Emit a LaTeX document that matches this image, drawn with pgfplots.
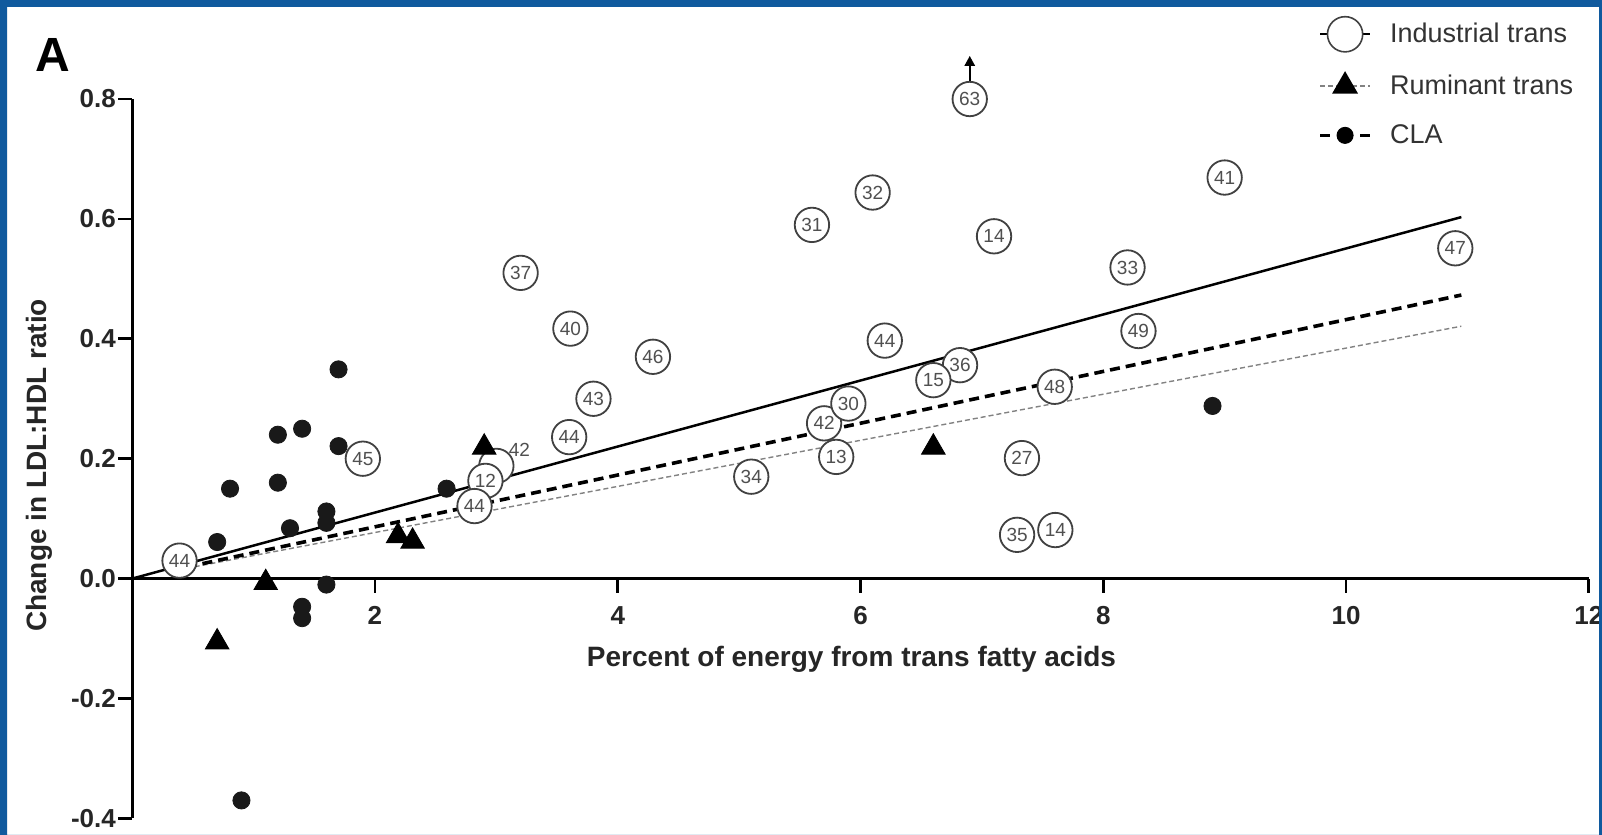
\documentclass[border=0pt]{standalone}
\usepackage{pgfplots}
\pgfplotsset{compat=1.18}
\usepackage{fontspec}
\setmainfont{Liberation Sans}
\usetikzlibrary{arrows.meta}
\definecolor{frameblue}{RGB}{16,90,158}
\definecolor{circgray}{RGB}{65,65,65}
\definecolor{labgray}{RGB}{80,80,80}
\definecolor{rumgray}{RGB}{130,130,130}
\begin{document}
\begin{tikzpicture}[x=1pt,y=1pt]
\useasboundingbox (0,0) rectangle (801,417.5);
\fill[white] (0,0) rectangle (801,417.5);
\begin{axis}[
  at={(66.1pt,8.3pt)}, anchor=south west,
  scale only axis, width=728.3pt, height=359.7pt,
  xmin=0, xmax=12, ymin=-0.4, ymax=0.8,
  axis x line=middle, axis y line=left,
  axis line style={-, line width=1.4pt, black},
  hide obscured x ticks=false, hide obscured y ticks=false,
  xtick={2,4,6,8,10,12}, xticklabels={2,4,6,8,10,12},
  ytick={-0.4,-0.2,0,0.2,0.4,0.6,0.8},
  yticklabels={-0.4,-0.2,0.0,0.2,0.4,0.6,0.8},
  tick align=outside, major tick length=7pt,
  tick style={line width=1.4pt, black},
  ticklabel style={font=\bfseries\fontsize{13}{13}\selectfont, text=black!85},
  xticklabel style={yshift=-3.5pt},
  yticklabel style={inner xsep=1pt},
  /pgf/number format/assume math mode=true,
  clip=false,
  legend image code/.code={
    \draw[mark repeat=2, mark phase=2, #1] plot coordinates {(0pt,0pt) (12.5pt,0pt) (25pt,0pt)};
    \path[draw=none, fill=none] (0pt,0pt) -- (33pt,0pt);
  },
  legend cell align=left,
  legend style={at={(axis cs:9.768,0.938)}, anchor=north west, draw=none, fill=none,
    inner sep=0pt, row sep=9.5pt, font=\fontsize{13.5}{13.5}\selectfont, text=black!80},
]
\addlegendimage{black, line width=1.2pt, mark=*, mark size=8.8pt, mark options={fill=white, draw=circgray, line width=0.8pt}}
\addlegendentry{Industrial trans}
\addlegendimage{rumgray, line width=0.7pt, dash pattern=on 2.5pt off 1.5pt, mark=triangle*, mark size=6.8pt, mark options={solid, fill=black, draw=black}}
\addlegendentry{Ruminant trans}
\addlegendimage{black, line width=1.8pt, dash pattern=on 5pt off 15pt, mark=*, mark size=4pt, mark options={solid, fill=black, line width=0.5pt}}
\addlegendentry{CLA}

% regression lines
\addplot[black, line width=1.25pt, forget plot] coordinates {(0,0) (10.95,0.603)};
\addplot[rumgray, line width=0.7pt, dash pattern=on 2.5pt off 1.5pt, forget plot] coordinates {(0.45,0.0173) (10.95,0.421)};
\addplot[black, line width=1.8pt, dash pattern=on 5pt off 3pt, forget plot] coordinates {(0.45,0.0194) (10.95,0.473)};

% hidden industrial point (label placed outside)
\addplot[only marks, mark=*, mark size=8.6pt, mark options={fill=white, draw=circgray, line width=0.9pt}, forget plot] coordinates {(3.00,0.188)};

% industrial trans
\addplot[only marks, mark=*, mark size=8.6pt, mark options={fill=white, draw=circgray, line width=0.9pt},
  nodes near coords, point meta=explicit symbolic,
  every node near coord/.append style={font=\fontsize{9.5}{9.5}\selectfont, text=labgray, inner sep=0pt},
  nodes near coords align={center}, forget plot] table[meta=lab] {
x y lab
0.39 0.030 44
1.90 0.200 45
2.91 0.163 12
2.82 0.121 44
3.20 0.510 37
3.61 0.417 40
3.80 0.300 43
3.60 0.236 44
4.29 0.370 46
5.10 0.170 34
5.60 0.590 31
6.10 0.644 32
5.70 0.259 42
5.90 0.292 30
5.80 0.203 13
6.20 0.397 44
6.90 0.800 63
6.82 0.356 36
6.60 0.331 15
7.10 0.571 14
7.33 0.201 27
7.29 0.073 35
7.605 0.081 14
7.60 0.320 48
8.20 0.519 33
8.29 0.413 49
9.00 0.669 41
10.90 0.551 47
};
\node[font=\fontsize{9.5}{9.5}\selectfont, text=labgray] at (axis cs:3.19,0.214) {42};

% ruminant trans
\addplot[only marks, mark=triangle*, mark size=6.8pt, mark options={fill=black, draw=black}, forget plot] coordinates {
(0.70,-0.106) (1.10,-0.007) (2.19,0.071) (2.31,0.062) (2.90,0.219) (6.60,0.219)};

% CLA
\addplot[only marks, mark=*, mark size=4.3pt, mark options={fill=black!90, draw=black!90}, forget plot] coordinates {
(0.70,0.061) (0.806,0.150) (0.90,-0.370) (1.20,0.240) (1.20,0.160) (1.30,0.084)
(1.40,0.250) (1.40,-0.047) (1.40,-0.066) (1.60,0.112) (1.60,0.093) (1.60,-0.010)
(1.70,0.349) (1.70,0.221) (2.59,0.150) (8.90,0.288)};

\draw[-{Triangle[length=5pt,width=5pt]}, line width=1.2pt] (axis cs:6.9,0.830) -- (axis cs:6.9,0.872);

\node[font=\bfseries\fontsize{14}{14}\selectfont, text=black!85, anchor=base] at (axis cs:5.926,-0.146) {Percent of energy from trans fatty acids};
\node[font=\bfseries\fontsize{14}{14}\selectfont, text=black!85, anchor=base, rotate=90] at (axis cs:-0.71,0.1886) {Change in LDL:HDL ratio};
\end{axis}
\node[font=\bfseries\fontsize{24}{24}\selectfont, anchor=base] at (26.25,381.5) {A};
\fill[frameblue, even odd rule] (0,0) rectangle (801,417.5) (3.5,-1) rectangle (799.5,414);
\end{tikzpicture}
\end{document}
